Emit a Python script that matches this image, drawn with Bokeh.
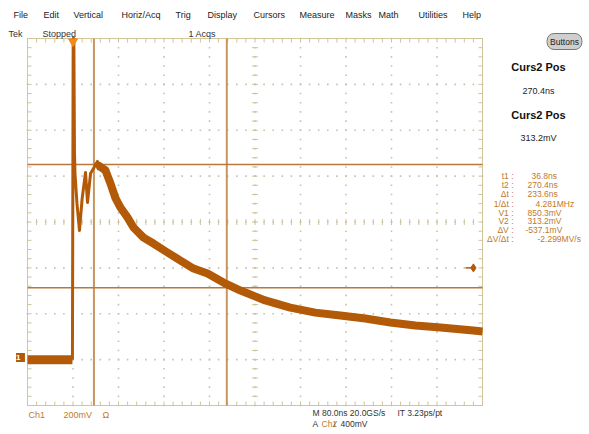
import numpy as np
from bokeh.plotting import figure
from bokeh.models import Label
from bokeh.embed import file_html
from bokeh.resources import INLINE

# ---------------- data ----------------
# time in ns (trigger at 0), Ch1 voltage in V (display clips at 1.4 V)
pre_t = [-80, -60, -40, -20, -1]
pre_v = [0.0, 0.0, 0.0, 0.0, 0.0]

ring_t = [-1, 0.3, 1.5, 2.6, 3.5, 7, 11.4, 16, 22, 25.5, 30.8, 36, 43, 46]
ring_v = [0.0, 1.4, 1.4, 0.903, 0.811, 0.68, 0.563, 0.70, 0.816, 0.685, 0.811, 0.833, 0.864, 0.85]

decay_t = [40, 44.8, 57.1, 65.9, 74.7, 83.5, 95.8, 106.4, 124, 141.6, 166.1, 189, 212, 236.6,
           264.6, 294.5, 338, 382, 426, 470, 514, 558, 602, 646, 704, 720]
decay_v = [0.84, 0.846, 0.825, 0.768, 0.704, 0.663, 0.620, 0.576, 0.532, 0.506, 0.467, 0.432,
           0.397, 0.375, 0.336, 0.301, 0.258, 0.227, 0.205, 0.192, 0.179, 0.162, 0.149, 0.140,
           0.127, 0.123]

cursor_t = [36.8, 270.4]        # ns
cursor_v = [0.8503, 0.3132]     # V
trig_time = 0.0
trig_level = 0.400

menu_items = ["File", "Edit", "Vertical", "Horiz/Acq", "Trig", "Display", "Cursors",
              "Measure", "Masks", "Math", "Utilities", "Help"]
readout_labels = ["t1 :", "t2 :", "\u0394t :", "1/\u0394t :", "V1 :", "V2 :", "\u0394V :", "\u0394V/\u0394t :"]
readout_values = ["36.8ns", "270.4ns", "233.6ns", "4.281MHz", "850.3mV", "313.2mV", "-537.1mV", "-2.299MV/s"]

# ---------------- scales ----------------
T0, T1 = -80.0, 720.0
V0, V1 = -0.2, 1.4
FL, FT, FW, FH = 27, 38, 455, 367   # graticule in page pixels
OX, OY = 0, 0                       # figure offset on the page
W, H = 585, 430

def X(px):
    return T0 + (px - FL) * (T1 - T0) / FW

def Y(py):
    return V0 + (FT + FH - py) * (V1 - V0) / FH

TPX = (T1 - T0) / FW
VPX = (V1 - V0) / FH

p = figure(width=W, height=H, x_range=(X(OX), X(OX + W)), y_range=(Y(OY + H), Y(OY)),
           x_axis_location=None, y_axis_location=None,
           toolbar_location=None, output_backend="svg",
           min_border=0, min_border_left=0, min_border_right=0,
           min_border_top=0, min_border_bottom=0)
p.xgrid.visible = False
p.ygrid.visible = False
p.outline_line_color = None
p.background_fill_color = "white"
p.border_fill_color = "white"

grid_col = "#c7c1ad"
tick_col = "#cfc39a"

# dotted graticule
div_t = [T0 + 80 * k for k in range(1, 10)]
div_v = [V0 + 0.2 * k for k in range(1, 8)]
minor_t = np.arange(T0, T1 + 0.1, 16.0)
minor_v = np.arange(V0, V1 + 0.001, 0.04)
gx, gy = [], []
for t in div_t:
    gx += [t] * len(minor_v)
    gy += list(minor_v)
for v in div_v:
    gx += list(minor_t)
    gy += [v] * len(minor_t)
p.scatter(gx, gy, marker="square", size=1.6, fill_color=grid_col, line_color=None)

# graticule border
p.quad(left=[T0], right=[T1], bottom=[V0], top=[V1], fill_color=None,
       line_color="#d2c79c", line_width=1)

# border ticks + center cross ticks
tl = 4
xs0, ys0, xs1, ys1 = [], [], [], []
for t in minor_t:
    xs0 += [t, t]; xs1 += [t, t]
    ys0 += [V1, V0]; ys1 += [V1 - tl * VPX, V0 + tl * VPX]
for v in minor_v:
    ys0 += [v, v]; ys1 += [v, v]
    xs0 += [T0, T1]; xs1 += [T0 + tl * TPX, T1 - tl * TPX]
ct, cv = 320.0, 0.6
for t in minor_t:
    xs0.append(t); xs1.append(t); ys0.append(cv - 3 * VPX); ys1.append(cv + 3 * VPX)
for v in minor_v:
    ys0.append(v); ys1.append(v); xs0.append(ct - 3 * TPX); xs1.append(ct + 3 * TPX)
p.segment(xs0, ys0, xs1, ys1, line_color=tick_col, line_width=1)

# cursors
for t in cursor_t:
    p.segment([t], [V0], [t], [V1], line_color="#c8955f", line_width=2)
for v in cursor_v:
    p.segment([T0], [v], [T1], [v], line_color="#b9783b", line_width=1.5)

trace_col = "#b35a08"
p.line(pre_t, pre_v, line_color=trace_col, line_width=9, line_join="round")
p.line(ring_t, ring_v, line_color=trace_col, line_width=3, line_join="round")
p.line(decay_t, decay_v, line_color=trace_col, line_width=8, line_join="round", line_cap="butt")

# trigger level marker (right)
p.segment([trig_time + 690], [trig_level], [trig_time + 704], [trig_level], line_color=trace_col, line_width=1.5)
p.scatter([trig_time + 704], [trig_level], marker="diamond", size=8, fill_color=trace_col, line_color=trace_col)

# trigger position marker (top of graticule)
p.scatter([trig_time], [V1 - 3 * VPX], marker="inverted_triangle", size=9,
          fill_color="#f08a1c", line_color="#f08a1c")

FONT = "Liberation Sans"

def L(px, py, text, size=9, color="#222222", align="left", bold=False, font=FONT, **kw):
    lab = Label(x=X(px), y=Y(py), text=text, text_font=font, text_font_size=f"{size}px",
                text_color=color, text_align=align, text_baseline="middle",
                text_font_style="bold" if bold else "normal", **kw)
    p.add_layout(lab)
    return lab

# menu bar
menu_x = [13, 43, 73, 121, 175, 207, 253, 299, 345, 378, 418, 462]
for mx, txt in zip(menu_x, menu_items):
    L(mx, 14, txt, size=9, color="#222222")

L(8, 33, "Tek", size=9, color="#333333")
L(42, 33, "Stopped", size=9, color="#333333")
L(188, 33, "1 Acqs", size=9, color="#333333")

# ground marker
L(20, 357, " 1 ", size=8, color="white", align="center", bold=True,
  background_fill_color=trace_col)

# right panel
L(564, 41, "Buttons", size=8.5, color="#222222", align="center",
  background_fill_color="#cfcfcf", border_line_color="#777777", padding=3, border_radius=7)
L(538, 66, "Curs2 Pos", size=11, color="#111111", align="center", bold=True)
L(538, 90, "270.4ns", size=9, color="#222222", align="center")
L(538, 114, "Curs2 Pos", size=11, color="#111111", align="center", bold=True)
L(538, 137, "313.2mV", size=9, color="#222222", align="center")

ro_y = [175, 184, 193, 203, 212, 220, 229, 238]
ro_x = [531, 527, 527, 535, 527, 527, 525, 537]
ro_col = "#c0792e"
for yy, lab, xx, val in zip(ro_y, readout_labels, ro_x, readout_values):
    L(513, yy, lab, size=8.5, color=ro_col, align="right")
    L(xx, yy, val, size=8.5, color=ro_col)

# bottom status
L(28, 414, "Ch1", size=9, color=ro_col)
L(63, 414, "200mV", size=9, color=ro_col)
L(102, 414, "\u03A9", size=9, color=ro_col)
L(312, 412, "M 80.0ns 20.0GS/s", size=8.5, color="#333333")
L(397, 412, "IT 3.23ps/pt", size=8.5, color="#333333")
L(312, 423, "A", size=8.5, color="#333333")
L(321, 423, "Ch1", size=8.5, color=ro_col)
L(334, 423, "\u2044", size=8.5, color="#333333")
L(340, 423, "400mV", size=8.5, color="#333333")

open("out.html", "w").write(file_html(p, INLINE))
